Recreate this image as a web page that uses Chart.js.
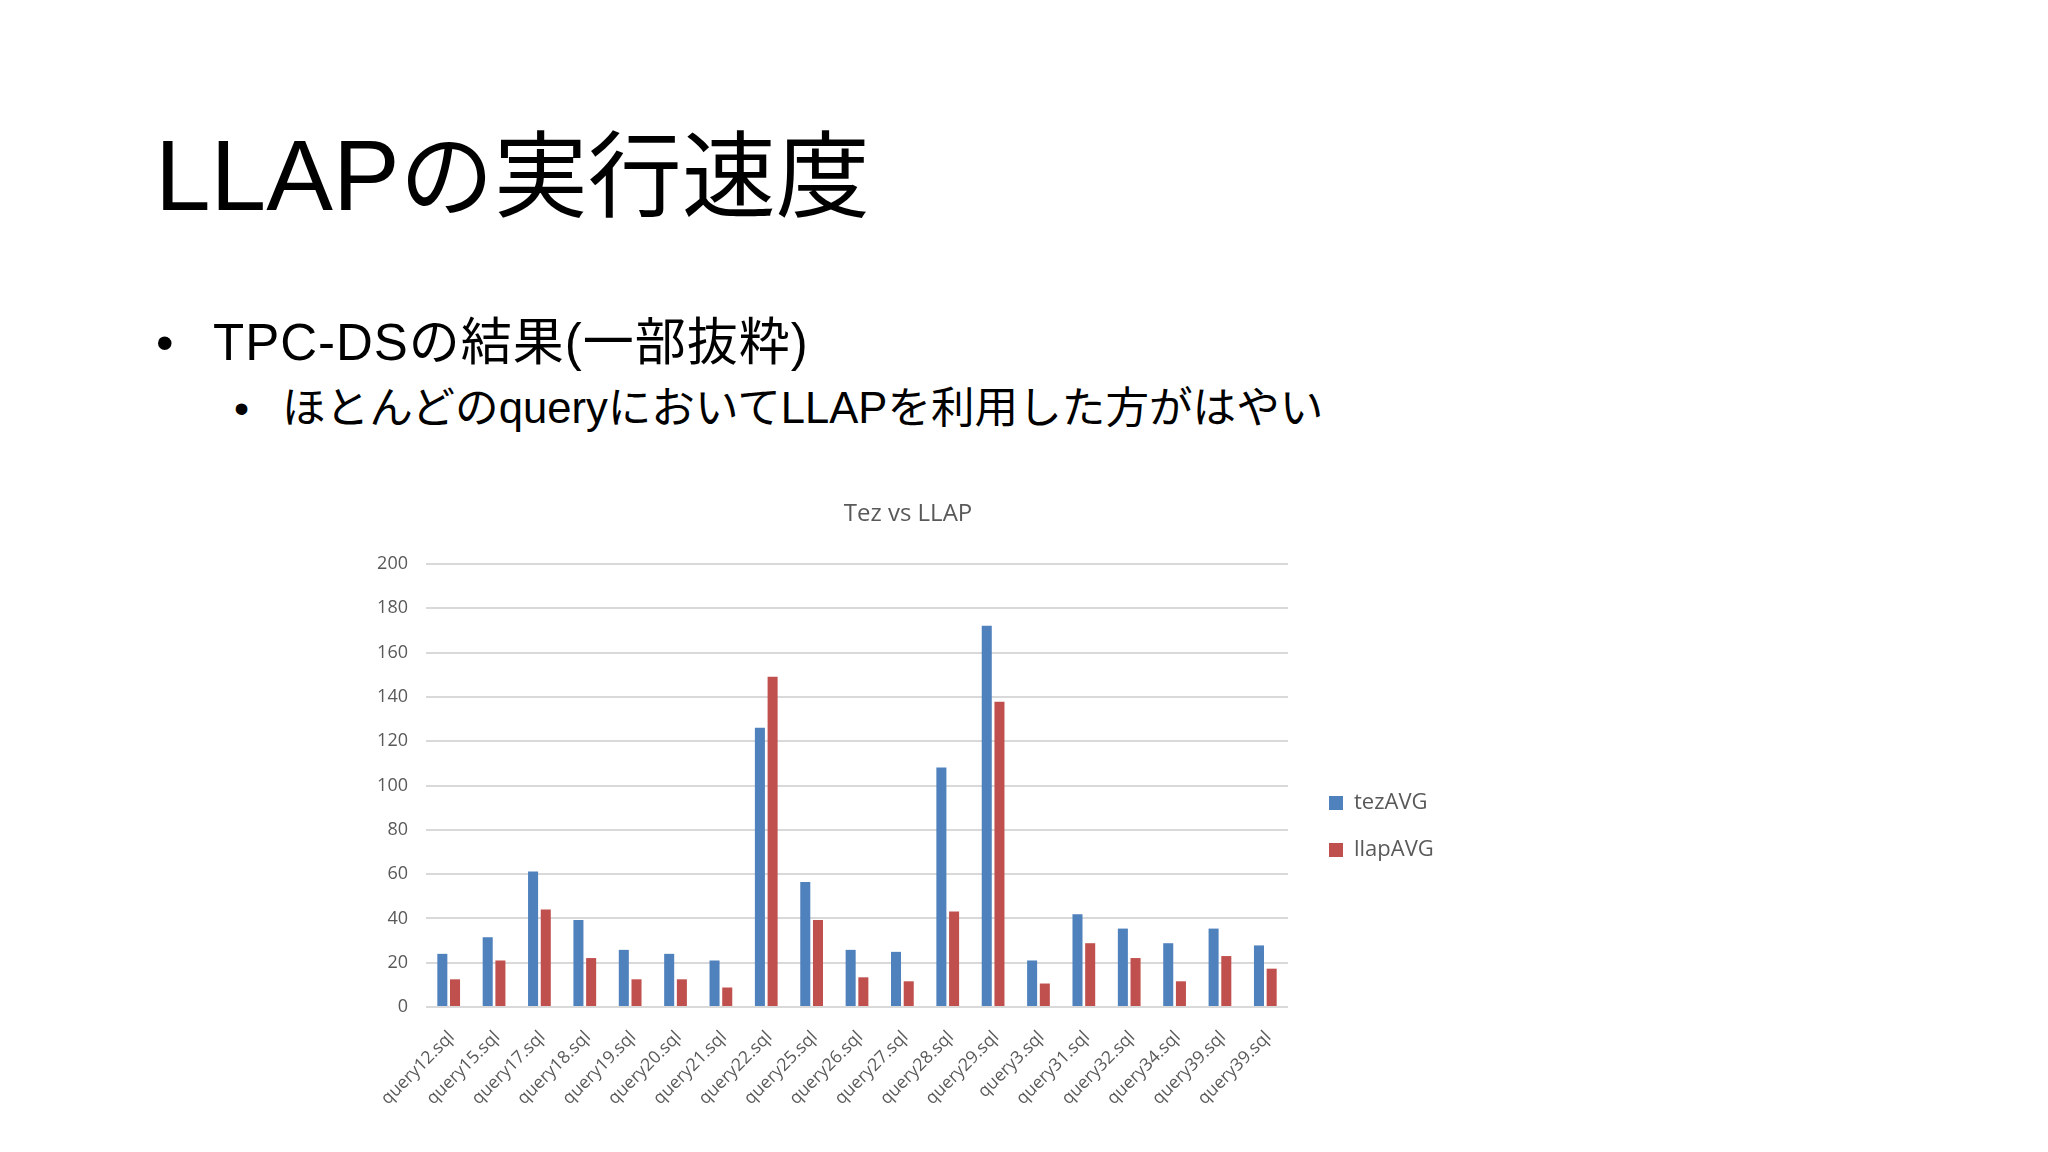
<!DOCTYPE html>
<html lang="ja">
<head>
<meta charset="utf-8">
<title>LLAPの実行速度</title>
<script src="https://cdn.jsdelivr.net/npm/chart.js@4.4.1/dist/chart.umd.min.js"></script>
<style>
  html, body { margin: 0; padding: 0; background: #fff; }
  body { width: 2048px; height: 1152px; position: relative; overflow: hidden;
         font-family: "Liberation Sans", "Noto Sans CJK JP", sans-serif; color: #000; }
  .txt { position: absolute; white-space: nowrap; }
  #title { left: 155px; top: 125px; font-size: 100px; line-height: 100px; }
  #title .ja { font-size: 94px; }
  #b1 { left: 156px; top: 318px; font-size: 50px; line-height: 50px; }
  #t1 { left: 213px; top: 318px; font-size: 51px; line-height: 50px; letter-spacing: 1px; }
  #b2 { left: 234px; top: 387px; font-size: 43px; line-height: 43px; }
  #t2 { left: 282px; top: 387px; font-size: 43.6px; line-height: 43px; }
  #wrap { position: absolute; left: 330px; top: 472px; width: 1156px; height: 709px; }
</style>
</head>
<body>
<div class="txt" id="title">LLAP<span class="ja">の実行速度</span></div>
<div class="txt" id="b1">•</div>
<div class="txt" id="t1">TPC-DSの結果(一部抜粋)</div>
<div class="txt" id="b2">•</div>
<div class="txt" id="t2">ほとんどのqueryにおいてLLAPを利用した方がはやい</div>
<div id="wrap"><canvas id="chart" width="1156" height="709"></canvas></div>
<script>
const queries = ['query12.sql', 'query15.sql', 'query17.sql', 'query18.sql', 'query19.sql',
  'query20.sql', 'query21.sql', 'query22.sql', 'query25.sql', 'query26.sql', 'query27.sql',
  'query28.sql', 'query29.sql', 'query3.sql', 'query31.sql', 'query32.sql', 'query34.sql',
  'query39.sql', 'query39.sql'];
const tezAVG = [24.0, 31.5, 61.2, 39.3, 25.8, 24.0, 21.0, 126.1, 56.4, 25.8, 24.9,
  108.1, 172.1, 21.0, 41.9, 35.4, 28.8, 35.4, 27.8];
const llapAVG = [12.5, 21.0, 44.0, 22.1, 12.5, 12.5, 8.8, 149.1, 39.3, 13.4, 11.6,
  43.1, 137.8, 10.6, 28.8, 22.1, 11.6, 23.0, 17.3];
const yTicks = { min: 0, max: 200, step: 20 };

const grey = '#595959';
const font = 'Open Sans';

// empty axes used only as spacers on the right of the plot
const spacer = (w, weight) => ({
  type: 'linear', position: 'right', weight: weight,
  grid: { display: false }, border: { display: false }, ticks: { display: false },
  afterFit: s => { s.width = w; }
});

new Chart(document.getElementById('chart').getContext('2d'), {
  type: 'bar',
  data: {
    labels: queries,
    datasets: [
      { label: 'tezAVG', data: tezAVG, backgroundColor: '#4F81BD' },
      { label: 'llapAVG', data: llapAVG, backgroundColor: '#C0504D' }
    ]
  },
  options: {
    responsive: false,
    animation: false,
    devicePixelRatio: 1,
    categoryPercentage: 0.56,
    barPercentage: 0.79,
    layout: { padding: 0 },
    plugins: {
      title: {
        display: true,
        text: 'Tez vs LLAP',
        color: grey,
        font: { family: font, size: 24, weight: 'normal', lineHeight: 1.2 },
        padding: { top: 27.6, bottom: 35.6 }
      },
      legend: {
        position: 'right',
        maxWidth: 130,
        labels: {
          color: grey,
          boxWidth: 14,
          boxHeight: 14,
          padding: 25,
          font: { family: font, size: 22 }
        }
      },
      tooltip: { enabled: false }
    },
    scales: {
      x: {
        grid: { display: false },
        border: { display: false },
        ticks: {
          color: grey,
          font: { family: font, size: 17.5 },
          minRotation: 45,
          maxRotation: 45,
          autoSkip: false,
          padding: 12,
          labelOffset: 3
        },
        afterFit: s => { s.height = 174; }
      },
      y: {
        min: yTicks.min,
        max: yTicks.max,
        border: { display: false },
        grid: { color: '#d9d9d9', lineWidth: 2, drawTicks: false },
        ticks: {
          stepSize: yTicks.step,
          color: grey,
          padding: 18,
          font: { family: font, size: 18 }
        },
        afterFit: s => { s.width = 96; }
      },
      gap: spacer(16, 0),
      gap2: spacer(52, 2000)
    }
  }
});
</script>
</body>
</html>
